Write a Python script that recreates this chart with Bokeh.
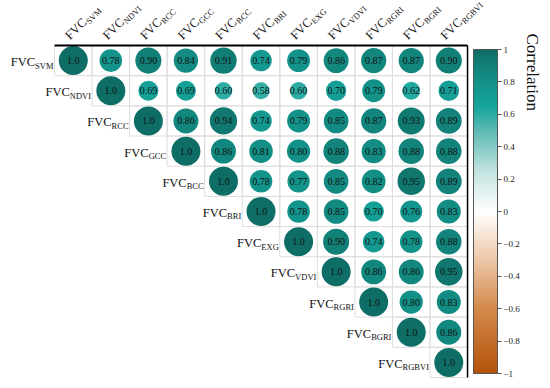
import numpy as np
from bokeh.plotting import figure
from bokeh.models import Range1d, ColumnDataSource, LinearColorMapper, ColorBar, FixedTicker
from bokeh.core.properties import value
from bokeh.embed import file_html
from bokeh.resources import INLINE

# ---------------- data ----------------
subs = ["SVM", "NDVI", "RCC", "GCC", "BCC", "BRI", "EXG", "VDVI", "RGRI", "BGRI", "RGBVI"]
r_svm   = [1.0, 0.78, 0.90, 0.84, 0.91, 0.74, 0.79, 0.86, 0.87, 0.87, 0.90]
r_ndvi  = [1.0, 0.69, 0.69, 0.60, 0.58, 0.60, 0.70, 0.79, 0.62, 0.71]
r_rcc   = [1.0, 0.86, 0.94, 0.74, 0.79, 0.85, 0.87, 0.93, 0.89]
r_gcc   = [1.0, 0.86, 0.81, 0.80, 0.88, 0.83, 0.88, 0.88]
r_bcc   = [1.0, 0.78, 0.77, 0.85, 0.82, 0.95, 0.89]
r_bri   = [1.0, 0.78, 0.85, 0.70, 0.76, 0.83]
r_exg   = [1.0, 0.90, 0.74, 0.78, 0.88]
r_vdvi  = [1.0, 0.86, 0.86, 0.95]
r_rgri  = [1.0, 0.80, 0.83]
r_bgri  = [1.0, 0.86]
r_rgbvi = [1.0]
rows = [r_svm, r_ndvi, r_rcc, r_gcc, r_bcc, r_bri, r_exg, r_vdvi, r_rgri, r_bgri, r_rgbvi]
cb_ticks = [-1, -0.8, -0.6, -0.4, -0.2, 0, 0.2, 0.4, 0.6, 0.8, 1]

# ---------------- layout (pixels) ----------------
W, H = 542, 380
CW, RH = 37.55, 30.18      # cell width / height
GL, GT = 54, 45            # grid left / top inside figure
n = len(subs)
FONT = "Liberation Serif"
MAIN_FS, SUB_FS = 12.5, 8.5

def px2x(px):
    return -0.5 + (px - GL) / CW

def px2y(py):
    return -0.5 + (py - GT) / RH

# colour palette (brown - white - teal)
anchors = [(-1.0, "#B5530A"), (-0.6, "#D48A4C"), (-0.3, "#EDC7A8"), (0.0, "#FFFFFF"),
           (0.25, "#C2E3E0"), (0.5, "#5DBAB3"), (0.65, "#14A69D"), (0.85, "#138A81"), (1.0, "#0E6E66")]
def hex2rgb(h):
    return np.array([int(h[i:i + 2], 16) for i in (1, 3, 5)], float)
av = np.array([a[0] for a in anchors])
ac = np.array([hex2rgb(a[1]) for a in anchors])
vals = np.linspace(-1, 1, 256)
palette = []
for v in vals:
    c = [np.interp(v, av, ac[:, k]) for k in range(3)]
    palette.append("#%02x%02x%02x" % tuple(int(round(t)) for t in c))
mapper = LinearColorMapper(palette=palette, low=-1, high=1)

# ---------------- figure ----------------
p = figure(width=W, height=H,
           x_range=Range1d(px2x(0), px2x(W)),
           y_range=Range1d(px2y(H), px2y(0)),
           output_backend="svg", toolbar_location=None,
           x_axis_location=None, y_axis_location=None,
           min_border=0, outline_line_color=None)
p.xgrid.grid_line_color = None
p.ygrid.grid_line_color = None

xs, ys, rv, lab = [], [], [], []
for i, row in enumerate(rows):
    for k, r in enumerate(row):
        xs.append(i + k)
        ys.append(i)
        rv.append(r)
        lab.append("1.0" if r == 1.0 else "%.2f" % r)
src = ColumnDataSource(dict(x=xs, y=ys, r=rv, lab=lab, sz=[29 * abs(r) for r in rv]))

p.rect(x="x", y="y", width=1, height=1, source=src, fill_color=None,
       line_color="#DDDDDD", line_width=1)
p.scatter(x="x", y="y", size="sz", source=src,
          fill_color={"field": "r", "transform": mapper}, line_color=None)
p.text(x="x", y="y", text="lab", source=src, text_font=value(FONT),
       text_font_size="10px", text_align="center", text_baseline="middle",
       text_color="#111111")

# frame lines (top and right)
p.segment(x0=[-0.5, n - 0.5], y0=[-0.5, -0.5], x1=[n - 0.5, n - 0.5], y1=[-0.5, n - 0.5],
          line_color="black", line_width=[2, 1.5])

# label widths (Times metrics)
cw = dict(S=.556, V=.722, M=.889, N=.722, D=.722, I=.333, R=.667, C=.667, G=.722,
          B=.667, E=.611, X=.722, F=.556)
def tw(s, fs):
    return sum(cw[c] for c in s) * fs
wF = tw("FVC", MAIN_FS)

# row labels
rl = ColumnDataSource(dict(x=[i - 0.5 for i in range(n)], y=list(range(n)),
                           sub=subs, main=["FVC"] * n,
                           mo=[-1 - tw(s, SUB_FS) for s in subs]))
p.text(x="x", y="y", text="main", source=rl, x_offset="mo", y_offset=1.5,
       text_font=value(FONT), text_font_size="%gpx" % MAIN_FS,
       text_align="right", text_baseline="alphabetic", text_color="#111111")
p.text(x="x", y="y", text="sub", source=rl, x_offset=-1, y_offset=5,
       text_font=value(FONT), text_font_size="%gpx" % SUB_FS,
       text_align="right", text_baseline="alphabetic", text_color="#111111")

# column labels (rotated 45 deg)
c45 = np.cos(np.pi / 4)
ox, oy = -6, -8
cl = ColumnDataSource(dict(x=list(range(n)), y=[-0.5] * n, sub=subs, main=["FVC"] * n))
p.text(x="x", y="y", text="main", source=cl, x_offset=ox, y_offset=oy, angle=np.pi / 4,
       text_font=value(FONT), text_font_size="%gpx" % MAIN_FS,
       text_align="left", text_baseline="alphabetic", text_color="#111111")
sx_off = ox + (wF + 0.5) * c45 + 3.5 * c45
sy_off = oy - (wF + 0.5) * c45 + 3.5 * c45
p.text(x="x", y="y", text="sub", source=cl, x_offset=sx_off, y_offset=sy_off, angle=np.pi / 4,
       text_font=value(FONT), text_font_size="%gpx" % SUB_FS,
       text_align="left", text_baseline="alphabetic", text_color="#111111")

# colour bar (bar spans image y 49..373, x 473..497)
overrides = {("%g" % t): ("%g" % t).replace("-", "\u2212") for t in cb_ticks}
cb = ColorBar(color_mapper=mapper, location=(473, H - 373), width=24, height=324,
              padding=0, margin=0, ticker=FixedTicker(ticks=cb_ticks),
              major_label_overrides=overrides,
              major_label_text_font=FONT, major_label_text_font_size="9px",
              major_label_text_color="#222222", label_standoff=2,
              major_tick_line_color="#555555", major_tick_out=4, major_tick_in=0,
              bar_line_color="#555555", background_fill_alpha=0, border_line_color=None)
p.add_layout(cb)

# colour bar title
p.text(x=[px2x(531.5)], y=[px2y(33)], text=["Correlation"], angle=-np.pi / 2,
       text_font=value(FONT), text_font_size="17px", text_align="left",
       text_baseline="middle", text_color="#111111")

open("out.html", "w").write(file_html(p, INLINE))
